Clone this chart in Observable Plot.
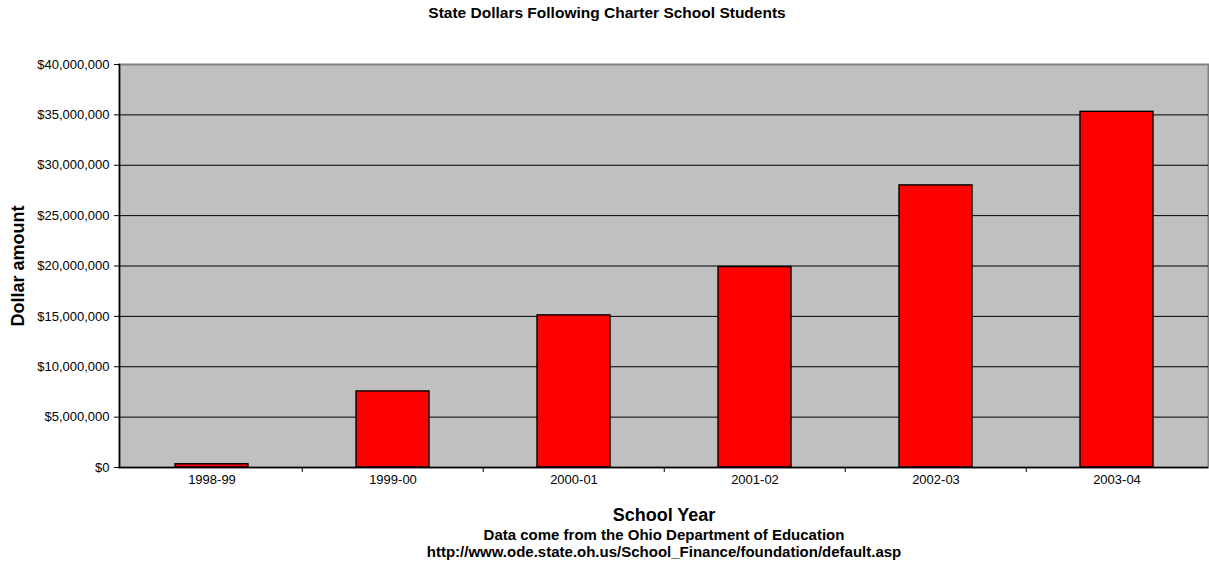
<!DOCTYPE html>
<html>
<head>
<meta charset="utf-8">
<script src="https://cdn.jsdelivr.net/npm/d3@7"></script>
<script src="https://cdn.jsdelivr.net/npm/@observablehq/plot@0.6"></script>
<style>
  html, body { margin: 0; padding: 0; background: #fff; }
</style>
</head>
<body>
<div id="chart"></div>
<script>
const years = ["1998-99", "1999-00", "2000-01", "2001-02", "2002-03", "2003-04"];
const dollars = [320000, 7550000, 15100000, 19900000, 28000000, 35300000];
const yTicks = [0, 5000000, 10000000, 15000000, 20000000, 25000000, 30000000, 35000000, 40000000];
const titleText = "State Dollars Following Charter School Students";
const yLabel = "Dollar amount";
const xLabel = "School Year";
const captionLines = ["Data come from the Ohio Department of Education",
  "http://www.ode.state.oh.us/School_Finance/foundation/default.asp"];

const data = years.map((year, i) => ({year, value: dollars[i]}));

const W = 1209, H = 565, mL = 119, mR = 1, mT = 64, mB = 98;
const bw = (W - mL - mR) / years.length;
const font = "'Liberation Sans', Arial, sans-serif";

const chart = Plot.plot({
  width: W,
  height: H,
  marginLeft: mL,
  marginRight: mR,
  marginTop: mT,
  marginBottom: mB,
  style: {fontFamily: font, fontSize: "13px", background: "#fff", color: "#000"},
  x: {domain: years, padding: 0},
  y: {domain: [0, 40000000]},
  marks: [
    Plot.frame({fill: "#C0C0C0", stroke: "#808080", strokeWidth: 2}),
    Plot.ruleY(yTicks.slice(1, -1), {stroke: "#000", strokeWidth: 1}),
    Plot.barY(data, {x: "year", y: "value", fill: "#FF0000", stroke: "#000", strokeWidth: 1.4, insetLeft: 54, insetRight: 54}),
    Plot.ruleY([0], {stroke: "#000", strokeWidth: 1.5}),
    Plot.frame({anchor: "left", stroke: "#000", strokeWidth: 1.5}),
    Plot.axisY({ticks: yTicks, tickSize: 5, tickPadding: 5, tickFormat: d3.format("$,"), label: null, fontSize: 13}),
    Plot.axisX({tickSize: 0, tickPadding: 7, label: null, fontSize: 13}),
    Plot.axisX(years.slice(1), {tickSize: 5, tickFormat: () => "", dx: -bw / 2, label: null}),
    Plot.text([titleText], {frameAnchor: "top", textAnchor: "middle", dx: -57, dy: -51, lineAnchor: "middle", fontSize: 15.5, fontWeight: "bold"}),
    Plot.text([yLabel], {frameAnchor: "left", textAnchor: "middle", dx: -101, rotate: -90, lineAnchor: "middle", fontSize: 18, fontWeight: "bold"}),
    Plot.text([xLabel], {frameAnchor: "bottom", textAnchor: "middle", dy: 48, lineAnchor: "middle", fontSize: 18, fontWeight: "bold"}),
    Plot.text([captionLines[0]], {frameAnchor: "bottom", textAnchor: "middle", dy: 68, lineAnchor: "middle", fontSize: 15, fontWeight: "bold"}),
    Plot.text([captionLines[1]], {frameAnchor: "bottom", textAnchor: "middle", dy: 85, lineAnchor: "middle", fontSize: 15, fontWeight: "bold"})
  ]
});
document.getElementById("chart").appendChild(chart);
</script>
</body>
</html>
